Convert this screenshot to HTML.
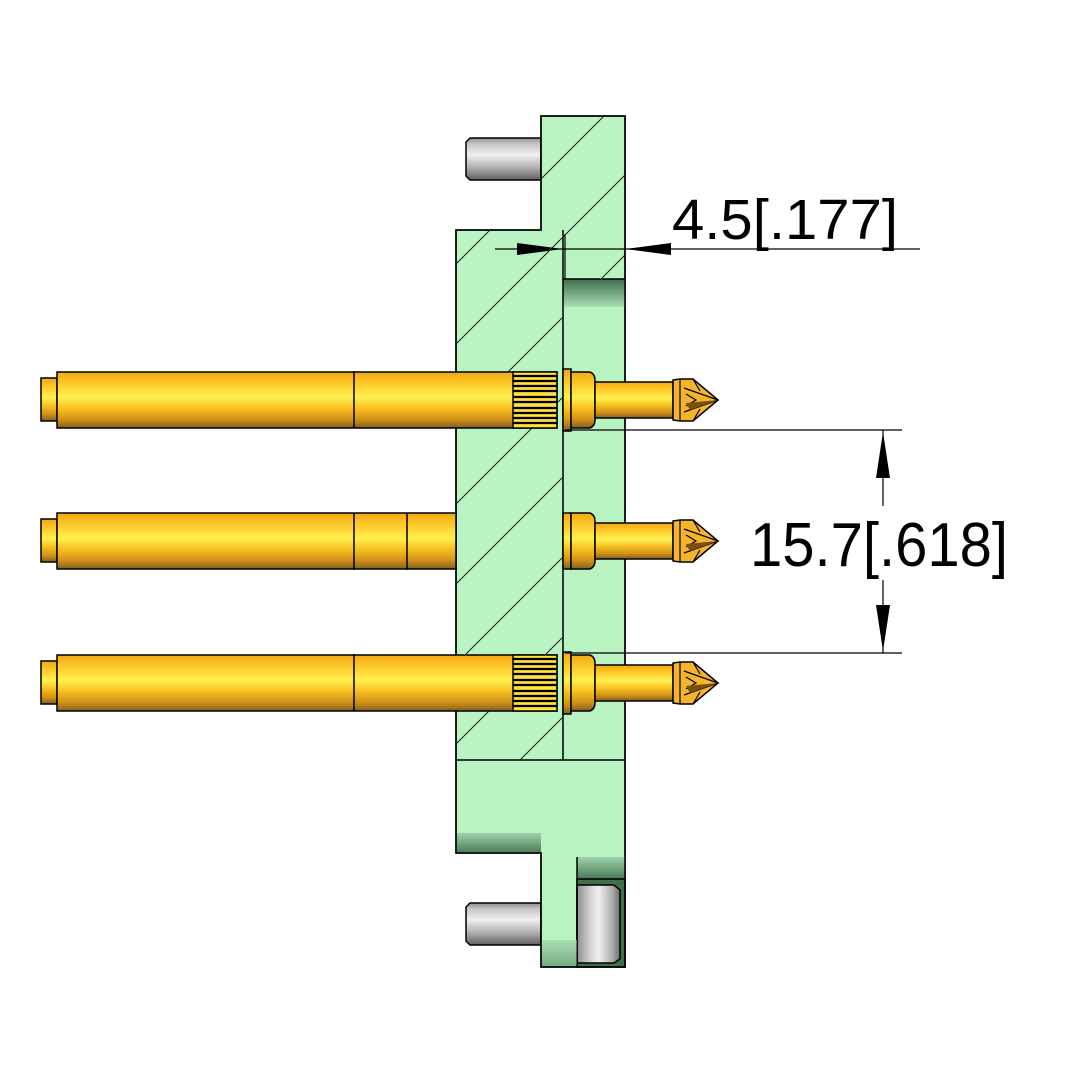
<!DOCTYPE html>
<html><head><meta charset="utf-8"><style>html,body{margin:0;padding:0;background:#fff;width:1082px;height:1083px;overflow:hidden}svg{display:block}</style></head><body>
<svg width="1082" height="1083" viewBox="0 0 1082 1083" xmlns="http://www.w3.org/2000/svg">
<defs>
<linearGradient id="gold" x1="0" y1="0" x2="0" y2="1">
<stop offset="0" stop-color="#f0a818"/><stop offset="0.15" stop-color="#fcc020"/><stop offset="0.45" stop-color="#fff050"/><stop offset="0.65" stop-color="#f8c020"/><stop offset="0.85" stop-color="#d09018"/><stop offset="1" stop-color="#806020"/>
</linearGradient>
<linearGradient id="gray" x1="0" y1="0" x2="0" y2="1">
<stop offset="0" stop-color="#909090"/><stop offset="0.15" stop-color="#c8c8c8"/><stop offset="0.4" stop-color="#f0f0f0"/><stop offset="0.7" stop-color="#b0b0b0"/><stop offset="1" stop-color="#606060"/>
</linearGradient>
<linearGradient id="gray2" x1="0" y1="0" x2="1" y2="0">
<stop offset="0" stop-color="#909090"/><stop offset="0.3" stop-color="#d0d0d0"/><stop offset="0.5" stop-color="#f0f0f0"/><stop offset="0.8" stop-color="#b0b0b0"/><stop offset="1" stop-color="#707070"/>
</linearGradient>
<linearGradient id="gdark" x1="0" y1="0" x2="0" y2="1">
<stop offset="0" stop-color="#3f6f4c"/><stop offset="1" stop-color="#a8dcb4"/>
</linearGradient>
<linearGradient id="gdark2" x1="0" y1="0" x2="0" y2="1">
<stop offset="0" stop-color="#9ed2aa"/><stop offset="1" stop-color="#4a7a56"/>
</linearGradient>
<clipPath id="hc"><rect x="456" y="230" width="107" height="530"/><rect x="541" y="116" width="84" height="163"/></clipPath>
<g id="pin">
<rect x="41" y="-22" width="16" height="43" fill="url(#gold)" stroke="#000" stroke-width="1.5"/>
<rect x="57" y="-28" width="500" height="56" fill="url(#gold)" stroke="#000" stroke-width="1.5"/>
<line x1="354" y1="-29" x2="354" y2="28" stroke="#000" stroke-width="1.5"/>
<rect x="563" y="-31" width="8" height="62" fill="url(#gold)" stroke="#000" stroke-width="1.5"/>
<path d="M571,-28 H590 Q595,-26 595,-20 V20 Q595,26 590,28 H571 Z" fill="url(#gold)" stroke="#000" stroke-width="1.5"/>
<rect x="595" y="-18" width="78" height="36" fill="url(#gold)" stroke="#000" stroke-width="1.5"/>
<path d="M673,-20 L680,-21 L693,-21 L718,0 L693,21 L680,21 L673,20 Z" fill="#f4b52a" stroke="#000" stroke-width="1.5"/>
<path d="M680,-21 L680,21 M684,-12 L718,0 L684,12 M686,-6 L696,0 L686,6 M693,-21 L700,-9 M693,21 L700,9" fill="none" stroke="#000" stroke-width="1.2"/>
<path d="M686,3 L718,0 L690,10 Z" fill="#7a5010"/>
</g>
<g id="knurl">
<rect x="513" y="-28" width="44" height="56" fill="#ffe040" stroke="#000" stroke-width="1.5"/>
<path d="M513,-24H557M513,-19H557M513,-14H557M513,-9H557M513,-3H557M513,2H557M513,8H557M513,13H557M513,18H557M513,23H557" stroke="#000" stroke-width="2.2"/>
</g>
</defs>
<rect width="1082" height="1083" fill="#fff"/>
<path d="M470,138 H541 V180 H470 L466,176 V142 Z" fill="url(#gray)" stroke="#000" stroke-width="1.5"/>
<path d="M470,903 H541 V945 H470 L466,941 V907 Z" fill="url(#gray)" stroke="#000" stroke-width="1.5"/>
<path d="M541,116 H625 V967 H541 V853 H456 V230 H541 Z" fill="#baf3c2" stroke="#000" stroke-width="1.5"/>
<g clip-path="url(#hc)" stroke="#000" stroke-width="0.9" fill="none">
<path d="M300,900 L1000,200 M300,820 L1000,120 M300,740 L1000,40 M300,660 L1000,-40 M300,580 L1000,-120 M300,500 L1000,-200 M300,420 L1000,-280 M300,340 L1000,-360 M300,980 L1000,280 M300,1060 L1000,360 M300,1140 L1000,440 M300,1220 L1000,520"/>
</g>
<rect x="563" y="279" width="62" height="28" fill="url(#gdark)"/>
<line x1="563" y1="279" x2="625" y2="279" stroke="#000" stroke-width="1.5"/>
<line x1="563" y1="230" x2="563" y2="760" stroke="#000" stroke-width="1.5"/>
<line x1="456" y1="760" x2="625" y2="760" stroke="#000" stroke-width="1.5"/>
<rect x="457" y="833" width="84" height="20" fill="url(#gdark2)"/>
<rect x="577" y="857" width="48" height="22" fill="url(#gdark2)"/>
<rect x="577" y="879" width="48" height="88" fill="#3f6f4c" stroke="#000" stroke-width="1.5"/>
<path d="M577,885 H614 L620,890 V959 L614,963 H577 Z" fill="url(#gray2)" stroke="#000" stroke-width="1.5"/>
<line x1="577" y1="857" x2="577" y2="967" stroke="#000" stroke-width="1.5"/>
<rect x="541" y="940" width="36" height="27" fill="url(#gdark2)" opacity="0.6"/>
<path d="M541,116 H625 V967 H541 V853 H456 V230 H541 Z" fill="none" stroke="#000" stroke-width="1.5"/>
<use href="#pin" transform="translate(0,400)"/>
<use href="#knurl" transform="translate(0,400)"/>
<g transform="translate(0,541)">
<rect x="41" y="-22" width="16" height="43" fill="url(#gold)" stroke="#000" stroke-width="1.5"/>
<rect x="57" y="-28" width="399" height="56" fill="url(#gold)" stroke="#000" stroke-width="1.5"/>
<line x1="354" y1="-28" x2="354" y2="29" stroke="#000" stroke-width="1.5"/>
<line x1="407" y1="-28" x2="407" y2="29" stroke="#000" stroke-width="1.5"/>
</g>
<g transform="translate(0,541)">
<rect x="563" y="-28" width="8" height="56" fill="url(#gold)" stroke="#000" stroke-width="1.5"/>
<path d="M571,-28 H590 Q595,-26 595,-20 V20 Q595,26 590,28 H571 Z" fill="url(#gold)" stroke="#000" stroke-width="1.5"/>
<rect x="595" y="-18" width="78" height="36" fill="url(#gold)" stroke="#000" stroke-width="1.5"/>
<path d="M673,-20 L680,-21 L693,-21 L718,0 L693,21 L680,21 L673,20 Z" fill="#f4b52a" stroke="#000" stroke-width="1.5"/>
<path d="M680,-21 L680,21 M684,-12 L718,0 L684,12 M686,-6 L696,0 L686,6 M693,-21 L700,-9 M693,21 L700,9" fill="none" stroke="#000" stroke-width="1.2"/>
<path d="M686,3 L718,0 L690,10 Z" fill="#7a5010"/>
</g>
<use href="#pin" transform="translate(0,683)"/>
<use href="#knurl" transform="translate(0,683)"/>
<g stroke="#000" stroke-width="1.2">
<line x1="565" y1="234" x2="565" y2="279"/>
<line x1="495" y1="249" x2="920" y2="249"/>
<line x1="565" y1="430" x2="902" y2="430"/>
<line x1="565" y1="653" x2="902" y2="653"/>
<line x1="883" y1="430" x2="883" y2="506"/>
<line x1="883" y1="580" x2="883" y2="653"/>
</g>
<path d="M517,243 L563,249 L517,255 Z M671,243 L625,249 L671,255 Z M876,478 L883,432 L890,478 Z M876,605 L883,651 L890,605 Z" fill="#000"/>
<text x="672" y="239" font-family="Liberation Sans, sans-serif" font-size="57" textLength="226" lengthAdjust="spacingAndGlyphs" fill="#000">4.5[.177]</text>
<text x="750" y="566" font-family="Liberation Sans, sans-serif" font-size="62" textLength="258" lengthAdjust="spacingAndGlyphs" fill="#000">15.7[.618]</text>
</svg>
</body></html>
